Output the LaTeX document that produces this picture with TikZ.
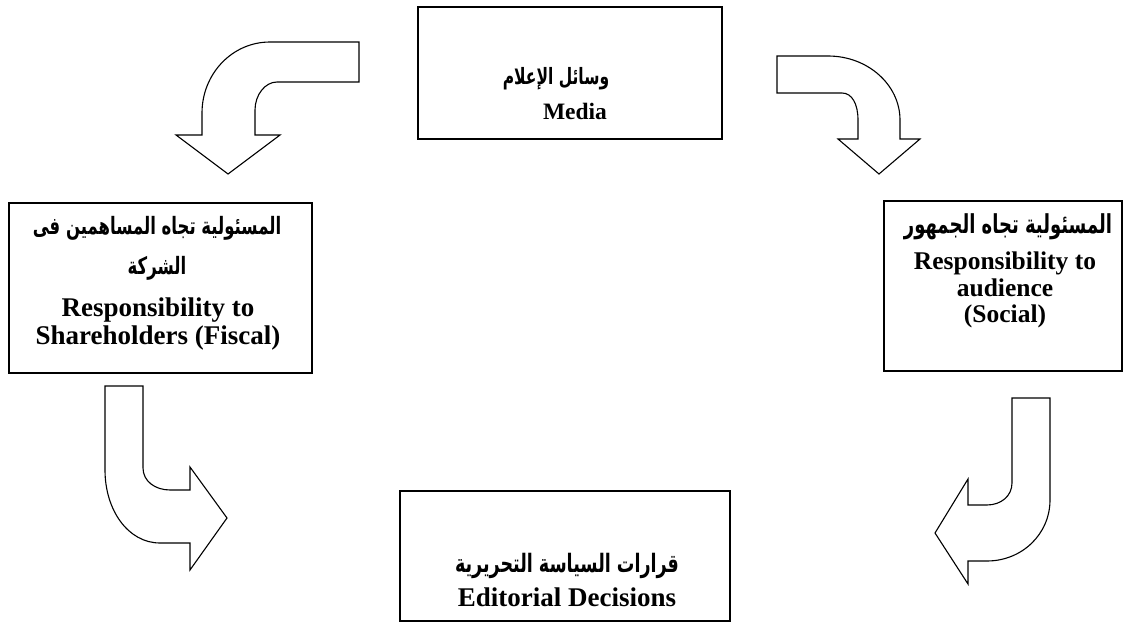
\documentclass[tikz,border=0pt]{standalone}
\usepackage{fontspec}
\usepackage{graphicx}
\setmainfont{Liberation Serif}
\newfontfamily\arabicfont[Script=Arabic]{DejaVu Sans}
\TeXXeTstate=1
\newcommand{\artext}[1]{\scalebox{1}[1.45]{\beginR #1\endR}}

\begin{document}
\begin{tikzpicture}[x=1pt, y=-1pt,
    box/.style={draw, line width=2.4pt, inner sep=0pt},
    entext/.style={align=center, inner sep=0pt},
    artxt/.style={align=center, inner sep=0pt},
    bentarrow/.style={draw, line width=1.1pt, fill=white}]
  \useasboundingbox (0,0) rectangle (1128,623);
  % boxes
  \node[box, minimum width=304pt, minimum height=132pt] (media) at (570,73) {};
  \node[box, minimum width=303pt, minimum height=170pt] (fiscal) at (160.5,288) {};
  \node[box, minimum width=238pt, minimum height=170pt] (social) at (1003,286) {};
  \node[box, minimum width=330pt, minimum height=130pt] (editorial) at (565,556) {};
  % texts
  \node[artxt, font=\fontsize{15.5}{40}\arabicfont\bfseries] (mediaar) at (556,79) {\artext{وسائل الإعلام}};
  \node[entext, font=\fontsize{23.5}{26}\selectfont\bfseries] (mediaen) at (575,111) {Media};
  \node[artxt, font=\fontsize{16.5}{40}\arabicfont\bfseries] (fiscalar) at (157,248)
    {\artext{المسئولية تجاه المساهمين فى}\\\artext{الشركة}};
  \node[entext, font=\fontsize{27}{28}\selectfont\bfseries] (fiscalen) at (158,324)
    {Responsibility to\\Shareholders (Fiscal)};
  \node[artxt, font=\fontsize{18}{40}\arabicfont\bfseries] (socialar) at (1008,227) {\artext{المسئولية تجاه الجمهور}};
  \node[entext, font=\fontsize{25.5}{26.5}\selectfont\bfseries] (socialen) at (1005,290)
    {Responsibility to\\audience\\(Social)};
  \node[artxt, font=\fontsize{17.5}{40}\arabicfont\bfseries] (editorialar) at (567,566) {\artext{قرارات السياسة التحريرية}};
  \node[entext, font=\fontsize{27}{28}\selectfont\bfseries] (editorialen) at (567,597) {Editorial Decisions};
  % bent arrows
  \draw[bentarrow] (359,42) -- (270,42) .. controls (232,42) and (202,74) .. (202,113)
    -- (202,135) -- (176,135) -- (228,174) -- (280,135) -- (255,135) -- (255,110)
    .. controls (255,95) and (265,82) .. (277,82) -- (359,82) -- cycle;
  \draw[bentarrow] (777,56) -- (828,56) .. controls (868,56) and (900,85) .. (900,120)
    -- (900,139) -- (920,139) -- (879,174) -- (838,139) -- (858,139) -- (858,120)
    .. controls (858,104) and (852,93) .. (842,93) -- (777,93) -- cycle;
  \draw[bentarrow] (105,386) -- (143,386) -- (143,468) .. controls (143,481) and (155,490) .. (170,490)
    -- (190,490) -- (190,467) -- (227,518) -- (190,570) -- (190,543) -- (160,543)
    .. controls (128,543) and (105,510) .. (105,470) -- cycle;
  \draw[bentarrow] (1012,398) -- (1050,398) -- (1050,500) .. controls (1050,534) and (1022,561) .. (987,561)
    -- (968,561) -- (968,584) -- (935,533) -- (968,479) -- (968,505) -- (987,505)
    .. controls (1001,505) and (1012,496) .. (1012,483) -- cycle;
\end{tikzpicture}
\end{document}
